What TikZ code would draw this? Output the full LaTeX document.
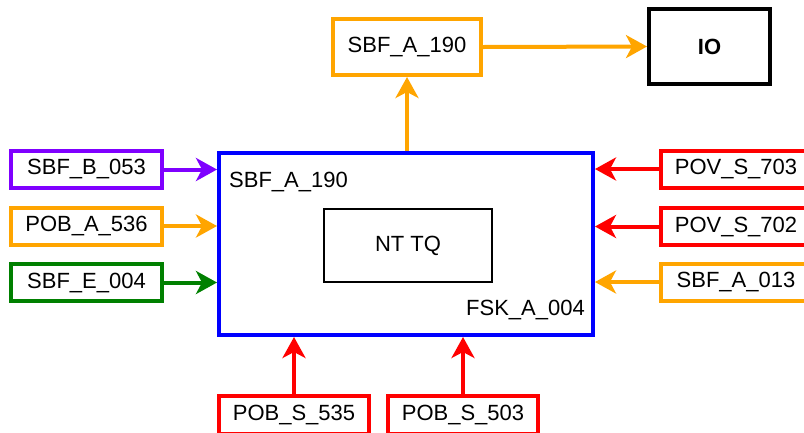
\documentclass[tikz,border=0pt]{standalone}
\usepackage{fontspec}
\setmainfont{Liberation Sans}
\usetikzlibrary{arrows.meta}
\definecolor{cpurple}{HTML}{7F00FF}
\definecolor{corange}{HTML}{FFA500}
\definecolor{cgreen}{HTML}{008000}
\definecolor{cred}{HTML}{FF0000}
\definecolor{cblue}{HTML}{0000FF}
\tikzset{
  sbox/.style={draw=#1, line width=4pt, fill=white, inner sep=0pt,
    minimum width=151pt, minimum height=37pt,
    font=\fontsize{22}{26}\selectfont},
  lbl/.style={inner sep=0pt, font=\fontsize{22}{26}\selectfont},
  conn/.style={draw=#1, line width=4pt,
    -{Stealth[length=21pt,width=23pt,inset=6pt]}},
}
\begin{document}
\begin{tikzpicture}[x=1pt,y=-1pt]
\useasboundingbox (0,0) rectangle (804,432);
\clip (0,0) rectangle (804,432);
% main box
\node[draw=cblue, line width=4pt, minimum width=374pt, minimum height=182pt, inner sep=0pt] (main) at (406,244) {};
\node[draw=black, line width=2pt, minimum width=168pt, minimum height=73pt, inner sep=0pt, font=\fontsize{22}{26}\selectfont] (inner) at (408,245.5) {NT TQ};
\node[lbl, anchor=west] (mlab) at (229,182) {SBF\_A\_190};
\node[lbl, anchor=east] (flab) at (585,310) {FSK\_A\_004};
% top
\node[sbox=corange, minimum width=148pt, minimum height=56pt] (top) at (407,47) {SBF\_A\_190};
\node[sbox=black, minimum width=121pt, minimum height=75pt, font=\fontsize{22}{26}\selectfont\bfseries] (io) at (709.5,46.5) {IO};
% left
\node[sbox=cpurple] (l1) at (86.5,169.5) {SBF\_B\_053};
\node[sbox=corange] (l2) at (86.5,226) {POB\_A\_536};
\node[sbox=cgreen] (l3) at (86.5,282.5) {SBF\_E\_004};
% right
\node[sbox=cred] (r1) at (736,169) {POV\_S\_703};
\node[sbox=cred] (r2) at (736,226.5) {POV\_S\_702};
\node[sbox=corange] (r3) at (736,282) {SBF\_A\_013};
% bottom
\node[sbox=cred, minimum width=150pt, minimum height=38pt] (b1) at (294,415) {POB\_S\_535};
\node[sbox=cred, minimum width=150pt, minimum height=38pt] (b2) at (463,415) {POB\_S\_503};
% connectors
\path[conn=corange] (main.north -| top.south) -- (top.south);
\path[conn=corange] (top.east) -- (io.west);
\path[conn=cpurple] (l1.east) -- (l1.east -| main.west);
\path[conn=corange] (l2.east) -- (l2.east -| main.west);
\path[conn=cgreen] (l3.east) -- (l3.east -| main.west);
\path[conn=cred] (r1.west) -- (r1.west -| main.east);
\path[conn=cred] (r2.west) -- (r2.west -| main.east);
\path[conn=corange] (r3.west) -- (r3.west -| main.east);
\path[conn=cred] (b1.north) -- (b1.north |- main.south);
\path[conn=cred] (b2.north) -- (b2.north |- main.south);
\end{tikzpicture}
\end{document}
